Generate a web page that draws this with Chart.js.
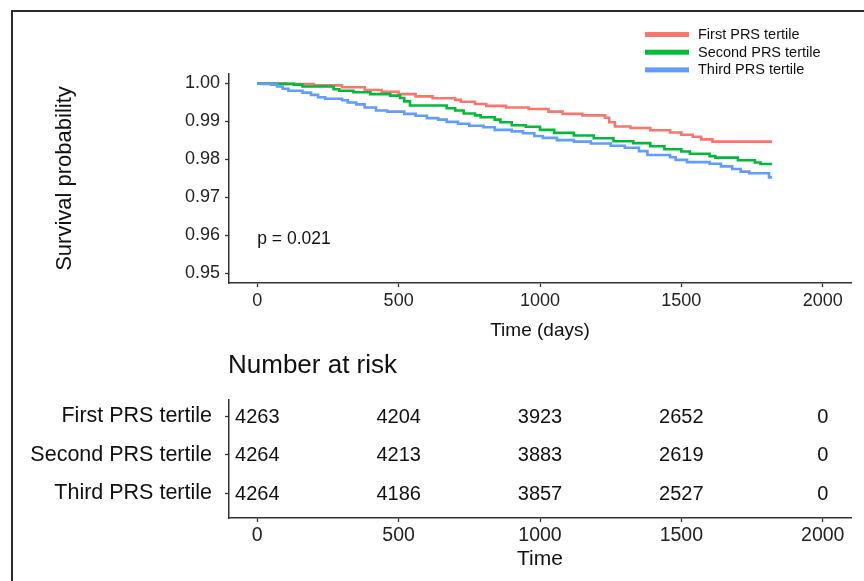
<!DOCTYPE html>
<html>
<head>
<meta charset="utf-8">
<script src="https://cdn.jsdelivr.net/npm/chart.js@4.4.1/dist/chart.umd.min.js"></script>
<style>
  body { margin: 0; background: #fff; }
  #tela { position: relative; width: 864px; height: 581px; overflow: hidden; background: #fff; }
  #moldura { position: absolute; left: 11px; top: 10px; right: -5px; bottom: -5px;
             border-left: 2px solid #2a2a2a; border-top: 2px solid #2a2a2a; }
  #graficoSurv { position: absolute; left: 0; top: 0; }
  #graficoRisco { position: absolute; left: 0; top: 345px; }
</style>
</head>
<body>
<div id="tela">
  <div id="moldura"></div>
  <canvas id="graficoSurv" width="864" height="345"></canvas>
  <canvas id="graficoRisco" width="864" height="236"></canvas>
</div>
<script>
// dados
const grupos = ['First PRS tertile', 'Second PRS tertile', 'Third PRS tertile'];
const cores = ['#F8766D', '#00BA38', '#619CFF'];
const tempos = [0, 500, 1000, 1500, 2000];
const ticksSurv = [0.95, 0.96, 0.97, 0.98, 0.99, 1.00];
const textoP = 'p = 0.021';

const tempoPrimeiro = [0, 100, 200, 300, 380, 440, 500, 560, 620, 700, 720, 770, 810, 880, 960, 1030, 1080, 1150, 1230, 1245, 1265, 1320, 1390, 1460, 1500, 1540, 1570, 1610, 1821];
const survPrimeiro  = [1.0, 0.99985, 0.9995, 0.9990, 0.9983, 0.9978, 0.9972, 0.9966, 0.9961, 0.9957, 0.9952, 0.9946, 0.9941, 0.9937, 0.9933, 0.9926, 0.9920, 0.9916, 0.9910, 0.9898, 0.9887, 0.9883, 0.9877, 0.9871, 0.9865, 0.9860, 0.9853, 0.9847, 0.9847];

const tempoSegundo = [0, 60, 130, 160, 270, 290, 340, 400, 470, 505, 520, 540, 670, 700, 730, 770, 790, 840, 860, 900, 950, 1000, 1050, 1120, 1190, 1260, 1330, 1390, 1440, 1500, 1530, 1600, 1620, 1700, 1760, 1780, 1821];
const survSegundo  = [1.0, 0.9999, 0.9997, 0.9992, 0.9985, 0.9981, 0.9977, 0.9972, 0.9968, 0.9962, 0.9953, 0.9942, 0.9935, 0.9929, 0.9921, 0.9916, 0.9911, 0.9905, 0.9898, 0.9890, 0.9886, 0.9878, 0.9870, 0.9863, 0.9856, 0.9848, 0.9843, 0.9835, 0.9827, 0.9821, 0.9815, 0.9809, 0.9805, 0.9798, 0.9792, 0.9788, 0.9788];

const tempoTerceiro = [0, 20, 50, 70, 90, 110, 160, 190, 215, 240, 300, 320, 350, 380, 420, 460, 520, 560, 600, 640, 670, 710, 750, 800, 840, 900, 940, 980, 1010, 1060, 1120, 1180, 1250, 1300, 1350, 1380, 1460, 1480, 1520, 1600, 1640, 1680, 1710, 1740, 1810, 1821];
const survTerceiro  = [1.0, 0.9999, 0.9997, 0.9992, 0.9986, 0.9981, 0.9976, 0.9970, 0.9964, 0.9960, 0.9956, 0.9950, 0.9945, 0.9937, 0.9929, 0.9926, 0.9920, 0.9915, 0.9909, 0.9905, 0.9899, 0.9894, 0.9889, 0.9885, 0.9878, 0.9874, 0.9869, 0.9862, 0.9857, 0.9851, 0.9847, 0.9842, 0.9836, 0.9831, 0.9822, 0.9812, 0.9806, 0.9799, 0.9793, 0.9789, 0.9782, 0.9775, 0.9768, 0.9764, 0.9753, 0.9753];

const riscoPrimeiro = [4263, 4204, 3923, 2652, 0];
const riscoSegundo  = [4264, 4213, 3883, 2619, 0];
const riscoTerceiro = [4264, 4186, 3857, 2527, 0];

const fonte = '"Liberation Sans", Arial, Helvetica, sans-serif';
Chart.defaults.font.family = fonte;

function pontos(t, s) {
    return t.map((v, i) => ({x: v, y: s[i]}));
}

function curva(k, t, s) {
    return {
        label: grupos[k],
        data: pontos(t, s),
        borderColor: cores[k],
        backgroundColor: cores[k],
        showLine: true,
        stepped: true,
        pointRadius: 0,
        borderWidth: 2.6,
        order: 3 - k
    };
}

// legenda desenhada a mao (linhas grossas empilhadas no canto)
const legendaLinhas = {
    id: 'legendaLinhas',
    afterDraw(chart) {
        const ctx = chart.ctx;
        ctx.save();
        ctx.font = '14.5px ' + fonte;
        ctx.textBaseline = 'middle';
        chart.data.datasets.forEach((ds, i) => {
            const y = 34.5 + i * 17.7;
            ctx.fillStyle = ds.borderColor;
            ctx.fillRect(645, y - 2.5, 44, 5);
            ctx.fillStyle = '#111';
            ctx.fillText(ds.label, 698, y + 0.5);
        });
        ctx.restore();
    }
};

const anotacaoP = {
    id: 'anotacaoP',
    afterDraw(chart) {
        const ctx = chart.ctx;
        const x = chart.scales.x.getPixelForValue(0);
        const y = chart.scales.y.getPixelForValue(0.959);
        ctx.save();
        ctx.font = '17.5px ' + fonte;
        ctx.fillStyle = '#111';
        ctx.textBaseline = 'middle';
        ctx.fillText(textoP, x, y);
        ctx.restore();
    }
};

function montaSobrevivencia() {
    new Chart(document.getElementById('graficoSurv'), {
        type: 'scatter',
        data: {
            datasets: [
                curva(0, tempoPrimeiro, survPrimeiro),
                curva(1, tempoSegundo, survSegundo),
                curva(2, tempoTerceiro, survTerceiro)
            ]
        },
        options: {
            responsive: false,
            animation: false,
            layout: { padding: { top: 74, right: 13, left: 0, bottom: 0 } },
            plugins: { legend: { display: false }, tooltip: { enabled: false } },
            scales: {
                x: {
                    type: 'linear', min: -100, max: 2100,
                    afterBuildTicks: s => { s.ticks = tempos.map(v => ({value: v})); },
                    afterFit: s => { s.height = 62; },
                    grid: { drawOnChartArea: false, drawTicks: true, tickLength: 4, tickColor: '#333', tickWidth: 1.3 },
                    border: { display: true, color: '#333', width: 1.5 },
                    ticks: { font: { size: 18 }, color: '#222', padding: 3, maxRotation: 0, callback: v => String(v) },
                    title: { display: true, text: 'Time (days)', font: { size: 19 }, color: '#111', padding: { top: 0, bottom: 3 } }
                },
                y: {
                    type: 'linear', min: 0.9475, max: 1.0025,
                    afterBuildTicks: s => { s.ticks = ticksSurv.map(v => ({value: v})); },
                    afterFit: s => { s.width = 229; },
                    grid: { drawOnChartArea: false, drawTicks: true, tickLength: 4, tickColor: '#333', tickWidth: 1.3 },
                    border: { display: true, color: '#333', width: 1.5 },
                    ticks: { font: { size: 18 }, color: '#222', padding: 5, callback: v => v.toFixed(2) },
                    title: { display: true, text: 'Survival probability', font: { size: 22 }, color: '#111', padding: { top: 52, bottom: 0 } }
                }
            }
        },
        plugins: [legendaLinhas, anotacaoP]
    });
}

// tabela de numero em risco
const numerosRisco = {
    id: 'numerosRisco',
    afterDraw(chart) {
        const ctx = chart.ctx;
        ctx.save();
        ctx.font = '20px ' + fonte;
        ctx.fillStyle = '#111';
        ctx.textAlign = 'center';
        ctx.textBaseline = 'middle';
        chart.data.datasets.forEach((ds, k) => {
            const meta = chart.getDatasetMeta(k);
            meta.data.forEach((p, i) => {
                ctx.fillText(String(ds.data[i].n), p.x, p.y + 1);
            });
        });
        ctx.font = '26px ' + fonte;
        ctx.textAlign = 'left';
        ctx.textBaseline = 'alphabetic';
        ctx.fillText('Number at risk', chart.chartArea.left - 1, 27.5);
        ctx.restore();
    }
};

function linhaRisco(k, risco) {
    return {
        label: grupos[k],
        data: tempos.map((t, i) => ({x: t, y: 3 - k, n: risco[i]})),
        pointRadius: 0,
        showLine: false
    };
}

function montaTabela() {
    new Chart(document.getElementById('graficoRisco'), {
        type: 'scatter',
        data: {
            datasets: [
                linhaRisco(0, riscoPrimeiro),
                linhaRisco(1, riscoSegundo),
                linhaRisco(2, riscoTerceiro)
            ]
        },
        options: {
            responsive: false,
            animation: false,
            layout: { padding: { top: 55, right: 13, left: 0, bottom: 0 } },
            plugins: { legend: { display: false }, tooltip: { enabled: false } },
            scales: {
                x: {
                    type: 'linear', min: -100, max: 2100,
                    afterBuildTicks: s => { s.ticks = tempos.map(v => ({value: v})); },
                    afterFit: s => { s.height = 63; },
                    grid: { drawOnChartArea: false, drawTicks: true, tickLength: 4, tickColor: '#333', tickWidth: 1.3 },
                    border: { display: true, color: '#333', width: 1.5 },
                    ticks: { font: { size: 19.5 }, color: '#222', padding: 2, maxRotation: 0, callback: v => String(v) },
                    title: { display: true, text: 'Time', font: { size: 21 }, color: '#111', padding: { top: 0, bottom: 9 } }
                },
                y: {
                    type: 'linear', min: 0.35, max: 3.42,
                    afterBuildTicks: s => { s.ticks = [3, 2, 1].map(v => ({value: v})); },
                    afterFit: s => { s.width = 229; },
                    grid: { drawOnChartArea: false, drawTicks: true, tickLength: 4, tickColor: '#333', tickWidth: 1.3 },
                    border: { display: true, color: '#333', width: 1.5 },
                    ticks: { font: { size: 21.5 }, color: '#111', padding: 13, callback: v => grupos[3 - v] }
                }
            }
        },
        plugins: [numerosRisco]
    });
}

montaSobrevivencia();
montaTabela();
</script>
</body>
</html>
